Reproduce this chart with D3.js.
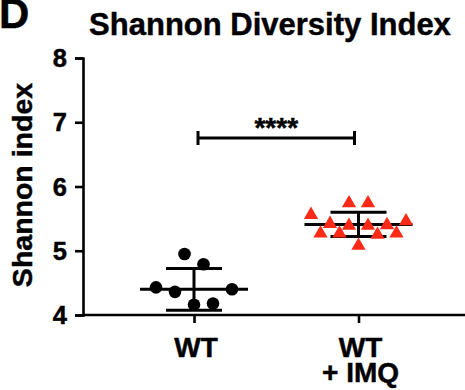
<!DOCTYPE html>
<html>
<head>
<meta charset="utf-8">
<script src="https://cdn.jsdelivr.net/npm/d3@7"></script>
<style>
  html, body { margin: 0; padding: 0; background: #fff; }
  svg { display: block; font-family: "Liberation Sans", Arial, sans-serif; font-weight: bold; }
  svg text { stroke: #000; stroke-width: 0.45px; }
</style>
</head>
<body>
<svg id="chart" width="465" height="390"></svg>
<script>
// Group names and per-animal Shannon index values
const groups = ["WT", "WT + IMQ"];
const groupLines = [["WT"], ["WT", "+ IMQ"]];
const wtValues = [4.95, 4.79, 4.43, 4.36, 4.16, 4.18, 4.40];
const imqValues = [5.74, 5.74, 5.56, 5.42, 5.39, 5.39, 5.40, 5.46, 5.27, 5.27, 5.08, 5.25, 5.27];
// Summary bars (centre line and spread) per group
const centres = [4.40, 5.41];
const spreads = [0.325, 0.19];
const yTicks = [4, 5, 6, 7, 8];
const significance = "****";

const svg = d3.select("#chart");
const margin = { left: 83, right: 0, top: 58, bottom: 75 };
const W = 465, H = 390;

const y = d3.scaleLinear().domain([4, 8]).range([H - margin.bottom, margin.top]);
const x = d3.scalePoint().domain(groups).range([194, 358.5]);

const red = "#fb2a17";

// Panel letter and title
svg.append("text").attr("x", -1).attr("y", 28).attr("font-size", 42).text("D");
svg.append("text").attr("x", 270).attr("y", 35).attr("text-anchor", "middle")
  .attr("font-size", 31).text("Shannon Diversity Index");

// Y axis
const yAxis = svg.append("g").attr("transform", `translate(${margin.left},0)`)
  .call(d3.axisLeft(y).tickValues(yTicks).tickFormat(d3.format("d")).tickSize(8).tickPadding(8));
yAxis.select(".domain").attr("stroke", "#000").attr("stroke-width", 2.6);
yAxis.selectAll(".tick line").attr("stroke", "#000").attr("stroke-width", 2.6);
yAxis.selectAll(".tick text").attr("font-size", 25.5).attr("font-family", "Liberation Sans, Arial, sans-serif")
  .attr("font-weight", "bold").attr("fill", "#000").attr("dy", "0.34em");

svg.append("text")
  .attr("transform", `translate(32,185) rotate(-90)`)
  .attr("text-anchor", "middle").attr("font-size", 28.5).text("Shannon index");

// X axis
const xAxis = svg.append("g").attr("transform", `translate(0,${y(4)})`)
  .call(d3.axisBottom(x).tickSize(8).tickFormat(""));
xAxis.select(".domain").attr("d", `M${margin.left},0H${W}`).attr("stroke", "#000").attr("stroke-width", 2.6);
xAxis.selectAll(".tick line").attr("stroke", "#000").attr("stroke-width", 2.6);

groups.forEach((g, i) => {
  const t = svg.append("text").attr("text-anchor", "middle").attr("font-size", 28)
    .attr("transform", `translate(${x(g) + 2},357)`);
  groupLines[i].forEach((line, j) => {
    t.append("tspan").attr("x", 0).attr("dy", j === 0 ? 0 : 24.5).text(line);
  });
});

// Scatter layout: values are gathered into horizontal rows (a row spans 0.3 units
// from its lowest value); points in a row are spread symmetrically, in data order.
function scatterLayout(values, rowSpan, spacing) {
  const order = values.map((v, i) => i).sort((a, b) => values[a] - values[b] || a - b);
  const rows = [];
  let current = null;
  order.forEach(i => {
    if (!current || values[i] > current.start + rowSpan) {
      current = { start: values[i], members: [] };
      rows.push(current);
    }
    current.members.push(i);
  });
  const offsets = new Array(values.length).fill(0);
  rows.forEach(r => {
    const m = r.members.slice().sort((a, b) => a - b);
    m.forEach((idx, k) => { offsets[idx] = (k - (m.length - 1) / 2) * spacing; });
  });
  return values.map((v, i) => ({ value: v, dx: offsets[i] }));
}

const seriesList = [
  { group: groups[0], values: wtValues, symbol: d3.symbolCircle, size: 125, fill: "#000" },
  { group: groups[1], values: imqValues, symbol: d3.symbolTriangle, size: 88, fill: red }
];

// Summary lines: centre line, spread bars with caps, vertical stem
seriesList.forEach((s, i) => {
  const cx = x(s.group);
  const c = centres[i], sp = spreads[i];
  const g = svg.append("g").attr("stroke", "#000").attr("stroke-width", 3);
  g.append("line").attr("x1", cx - 54).attr("x2", cx + 54).attr("y1", y(c)).attr("y2", y(c));
  g.append("line").attr("x1", cx).attr("x2", cx).attr("y1", y(c + sp)).attr("y2", y(c - sp));
  [c + sp, c - sp].forEach(v => {
    g.append("line").attr("x1", cx - 28).attr("x2", cx + 28).attr("y1", y(v)).attr("y2", y(v));
  });
});

// Points
seriesList.forEach(s => {
  const pts = scatterLayout(s.values, 0.3, 19);
  svg.append("g").selectAll("path").data(pts).join("path")
    .attr("d", d3.symbol().type(s.symbol).size(s.size))
    .attr("transform", d => `translate(${x(s.group) + d.dx},${y(d.value)})`)
    .attr("fill", s.fill);
});

// Significance bracket
const bx1 = x(groups[0]) + 4, bx2 = x(groups[1]) - 4, by = 138;
svg.append("path")
  .attr("d", `M${bx1},${by - 7}V${by + 7}M${bx1},${by}H${bx2}M${bx2},${by - 7}V${by + 7}`)
  .attr("stroke", "#000").attr("stroke-width", 3).attr("fill", "none");
svg.append("text").attr("x", (bx1 + bx2) / 2).attr("y", by - 1).attr("text-anchor", "middle")
  .attr("font-size", 28).text(significance);
</script>
</body>
</html>
